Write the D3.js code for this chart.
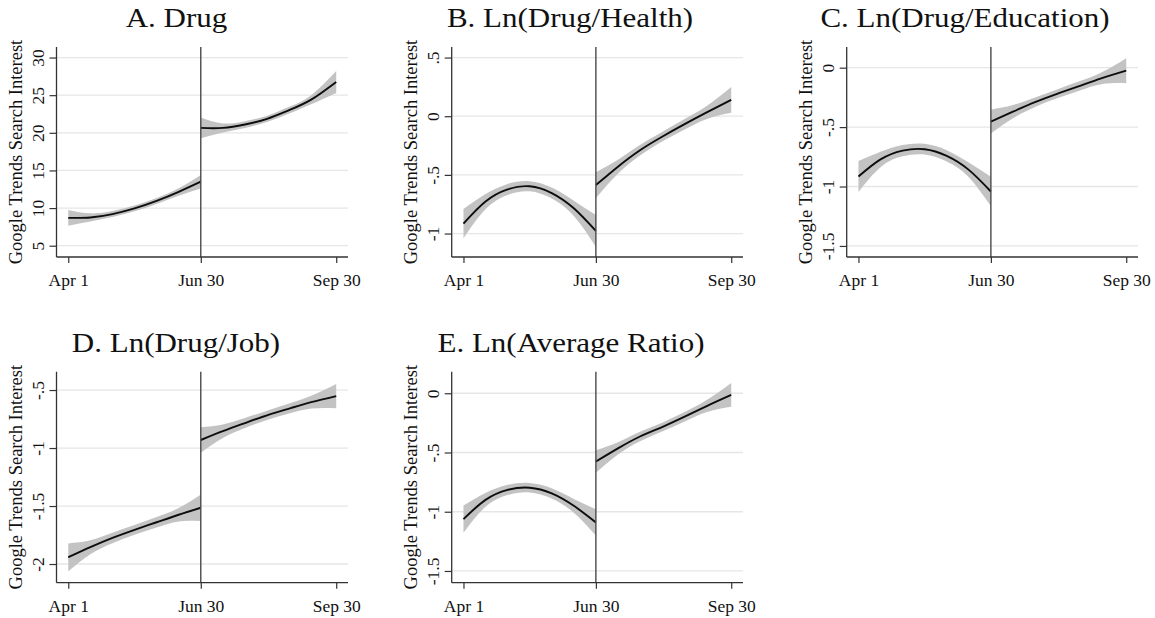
<!DOCTYPE html>
<html>
<head>
<meta charset="utf-8">
<script src="https://cdn.jsdelivr.net/npm/d3@7"></script>
<style>
  html, body { margin: 0; padding: 0; background: #ffffff; }
  svg { display: block; }
  svg text { font-family: "Liberation Serif", "Times New Roman", serif; fill: #111; }
</style>
</head>
<body>
<svg id="chart" width="1155" height="618"></svg>
<script>
// ---------- data ----------
const xTickDays   = [0, 90, 182];
const xTickLabels = ["Apr 1", "Jun 30", "Sep 30"];
const cutoffDay   = 90;
const daysPre  = [0, 15, 30, 45, 60, 75, 90];
const daysPost = [90, 105, 120, 135, 150, 165, 182];
const yTitle = "Google Trends Search Interest";

// A. Drug
const aTicks = [5, 10, 15, 20, 25, 30];
const aTickLabels = ["5", "10", "15", "20", "25", "30"];
const aPreFit  = [8.7, 8.75, 9.2, 9.95, 10.95, 12.15, 13.5];
const aPreLo   = [7.65, 8.2, 8.8, 9.57, 10.55, 11.65, 12.6];
const aPreHi   = [9.75, 9.3, 9.6, 10.33, 11.35, 12.65, 14.4];
const aPostFit = [20.65, 20.65, 21.1, 21.85, 23.0, 24.4, 26.75];
const aPostLo  = [19.28, 20.05, 20.65, 21.43, 22.55, 23.8, 25.3];
const aPostHi  = [22.02, 21.25, 21.55, 22.27, 23.45, 25.0, 28.2];

// B. Ln(Drug/Health)
const bTicks = [0.5, 0, -0.5, -1];
const bTickLabels = [".5", "0", "-.5", "-1"];
const bPreFit  = [-0.915, -0.727, -0.624, -0.597, -0.655, -0.785, -0.978];
const bPreLo   = [-1.04, -0.792, -0.671, -0.64, -0.702, -0.85, -1.113];
const bPreHi   = [-0.79, -0.662, -0.577, -0.554, -0.608, -0.72, -0.843];
const bPostFit = [-0.587, -0.43, -0.29, -0.175, -0.07, 0.03, 0.14];
const bPostLo  = [-0.697, -0.49, -0.335, -0.215, -0.115, -0.025, 0.03];
const bPostHi  = [-0.477, -0.37, -0.245, -0.135, -0.025, 0.085, 0.25];

// C. Ln(Drug/Education)
const cTicks = [0, -0.5, -1, -1.5];
const cTickLabels = ["0", "-.5", "-1", "-1.5"];
const cPreFit  = [-0.916, -0.772, -0.698, -0.686, -0.742, -0.86, -1.042];
const cPreLo   = [-1.046, -0.837, -0.746, -0.731, -0.79, -0.922, -1.167];
const cPreHi   = [-0.786, -0.707, -0.65, -0.641, -0.694, -0.798, -0.917];
const cPostFit = [-0.453, -0.37, -0.29, -0.22, -0.155, -0.09, -0.025];
const cPostLo  = [-0.553, -0.425, -0.33, -0.257, -0.195, -0.14, -0.13];
const cPostHi  = [-0.353, -0.315, -0.25, -0.183, -0.115, -0.04, 0.08];

// D. Ln(Drug/Job)
const dTicks = [-0.5, -1, -1.5, -2];
const dTickLabels = ["-.5", "-1", "-1.5", "-2"];
const dPreFit  = [-1.942, -1.855, -1.775, -1.705, -1.64, -1.575, -1.515];
const dPreLo   = [-2.062, -1.915, -1.82, -1.747, -1.685, -1.633, -1.63];
const dPreHi   = [-1.822, -1.795, -1.73, -1.663, -1.595, -1.517, -1.40];
const dPostFit = [-0.931, -0.855, -0.785, -0.718, -0.66, -0.605, -0.552];
const dPostLo  = [-1.041, -0.913, -0.828, -0.758, -0.703, -0.66, -0.657];
const dPostHi  = [-0.821, -0.797, -0.742, -0.678, -0.617, -0.55, -0.447];

// E. Ln(Average Ratio)
const eTicks = [0, -0.5, -1, -1.5];
const eTickLabels = ["0", "-.5", "-1", "-1.5"];
const ePreFit  = [-1.062, -0.9, -0.816, -0.797, -0.845, -0.95, -1.09];
const ePreLo   = [-1.177, -0.958, -0.859, -0.837, -0.888, -1.008, -1.2];
const ePreHi   = [-0.947, -0.842, -0.773, -0.757, -0.802, -0.892, -0.98];
const ePostFit = [-0.576, -0.465, -0.365, -0.285, -0.20, -0.11, -0.014];
const ePostLo  = [-0.671, -0.517, -0.405, -0.322, -0.24, -0.16, -0.114];
const ePostHi  = [-0.481, -0.413, -0.325, -0.248, -0.16, -0.06, 0.086];

// ---------- panels (layout) ----------
const panels = [
  { title: "A. Drug", tx: 176.5, ty: 27, x0: 56.5, x1: 348, y0: 47, y1: 257, yDom: [3.5, 31.4],
    ticks: aTicks, labels: aTickLabels, pre: [aPreFit, aPreLo, aPreHi], post: [aPostFit, aPostLo, aPostHi] },
  { title: "B. Ln(Drug/Health)", tx: 570, ty: 27, x0: 451.7, x1: 743, y0: 47, y1: 257, yDom: [-1.2, 0.59],
    ticks: bTicks, labels: bTickLabels, pre: [bPreFit, bPreLo, bPreHi], post: [bPostFit, bPostLo, bPostHi] },
  { title: "C. Ln(Drug/Education)", tx: 965, ty: 27, x0: 846.7, x1: 1138, y0: 47, y1: 257, yDom: [-1.593, 0.174],
    ticks: cTicks, labels: cTickLabels, pre: [cPreFit, cPreLo, cPreHi], post: [cPostFit, cPostLo, cPostHi] },
  { title: "D. Ln(Drug/Job)", tx: 176, ty: 352, x0: 56.5, x1: 348, y0: 371.7, y1: 582.7, yDom: [-2.161, -0.342],
    ticks: dTicks, labels: dTickLabels, pre: [dPreFit, dPreLo, dPreHi], post: [dPostFit, dPostLo, dPostHi] },
  { title: "E. Ln(Average Ratio)", tx: 571, ty: 352, x0: 451.7, x1: 743, y0: 371.7, y1: 582.7, yDom: [-1.599, 0.182],
    ticks: eTicks, labels: eTickLabels, pre: [ePreFit, ePreLo, ePreHi], post: [ePostFit, ePostLo, ePostHi] }
];

const SERIF = "Liberation Serif, Times New Roman, serif";
const svg = d3.select("#chart");
svg.append("rect").attr("width", 1155).attr("height", 618).attr("fill", "#fff");

panels.forEach(p => {
  const g = svg.append("g").attr("font-family", SERIF);
  const x = d3.scaleLinear().domain([-8, 190]).range([p.x0, p.x1]);
  const y = d3.scaleLinear().domain(p.yDom).range([p.y1, p.y0]);

  // gridlines
  g.selectAll("line.grid").data(p.ticks).join("line")
    .attr("class", "grid")
    .attr("x1", p.x0).attr("x2", p.x1)
    .attr("y1", d => y(d)).attr("y2", d => y(d))
    .attr("stroke", "#e6e6e6").attr("stroke-width", 1.3);

  const segs = [
    { days: daysPre,  s: p.pre },
    { days: daysPost, s: p.post }
  ];
  const area = d3.area().curve(d3.curveNatural)
    .x(d => x(d.day)).y0(d => y(d.lo)).y1(d => y(d.hi));
  const line = d3.line().curve(d3.curveNatural)
    .x(d => x(d.day)).y(d => y(d.fit));

  segs.forEach(sg => {
    const rows = sg.days.map((day, i) => ({ day, fit: sg.s[0][i], lo: sg.s[1][i], hi: sg.s[2][i] }));
    g.append("path").datum(rows).attr("d", area).attr("fill", "#c3c3c3").attr("stroke", "none");
    g.append("path").datum(rows).attr("d", line).attr("fill", "none")
      .attr("stroke", "#0d0d0d").attr("stroke-width", 1.9);
  });

  // cutoff vertical line
  g.append("line")
    .attr("x1", x(cutoffDay)).attr("x2", x(cutoffDay))
    .attr("y1", p.y0).attr("y2", p.y1)
    .attr("stroke", "#4a4a4a").attr("stroke-width", 1.4);

  // y axis
  const yAxis = d3.axisLeft(y).tickValues(p.ticks)
    .tickFormat((d, i) => p.labels[i]).tickSize(7).tickPadding(6);
  const ya = g.append("g").attr("transform", `translate(${p.x0},0)`).call(yAxis)
    .attr("font-family", SERIF);
  ya.select(".domain").attr("d", `M0,${p.y0}V${p.y1}`).attr("stroke", "#333").attr("stroke-width", 1.3);
  ya.selectAll(".tick line").attr("stroke", "#333").attr("stroke-width", 1.2);
  ya.selectAll(".tick text")
    .attr("x", null).attr("dy", null)
    .attr("transform", "translate(-13,0) rotate(-90)")
    .attr("text-anchor", "middle")
    .attr("font-size", 17.5).attr("font-family", SERIF).attr("fill", "#111");

  // x axis
  const xAxis = d3.axisBottom(x).tickValues(xTickDays)
    .tickFormat((d, i) => xTickLabels[i]).tickSize(6).tickPadding(6);
  const xa = g.append("g").attr("transform", `translate(0,${p.y1})`).call(xAxis)
    .attr("font-family", SERIF);
  xa.select(".domain").attr("d", `M${p.x0},0H${p.x1}`).attr("stroke", "#333").attr("stroke-width", 1.3);
  xa.selectAll(".tick line").attr("stroke", "#333").attr("stroke-width", 1.2);
  xa.selectAll(".tick text")
    .attr("y", 29).attr("dy", null)
    .attr("font-size", 17.5).attr("font-family", SERIF).attr("fill", "#111");

  // y axis title
  g.append("text")
    .attr("transform", `translate(${p.x0 - 35},${(p.y0 + p.y1) / 2}) rotate(-90)`)
    .attr("text-anchor", "middle")
    .attr("font-family", SERIF)
    .attr("font-size", 18.5)
    .attr("fill", "#111")
    .text(yTitle);

  // panel title
  g.append("text")
    .attr("transform", `translate(${p.tx},${p.ty}) scale(1.17,1)`)
    .attr("text-anchor", "middle")
    .attr("font-family", SERIF)
    .attr("font-size", 26.5)
    .attr("fill", "#1a1a1a")
    .text(p.title);
});
</script>
</body>
</html>
